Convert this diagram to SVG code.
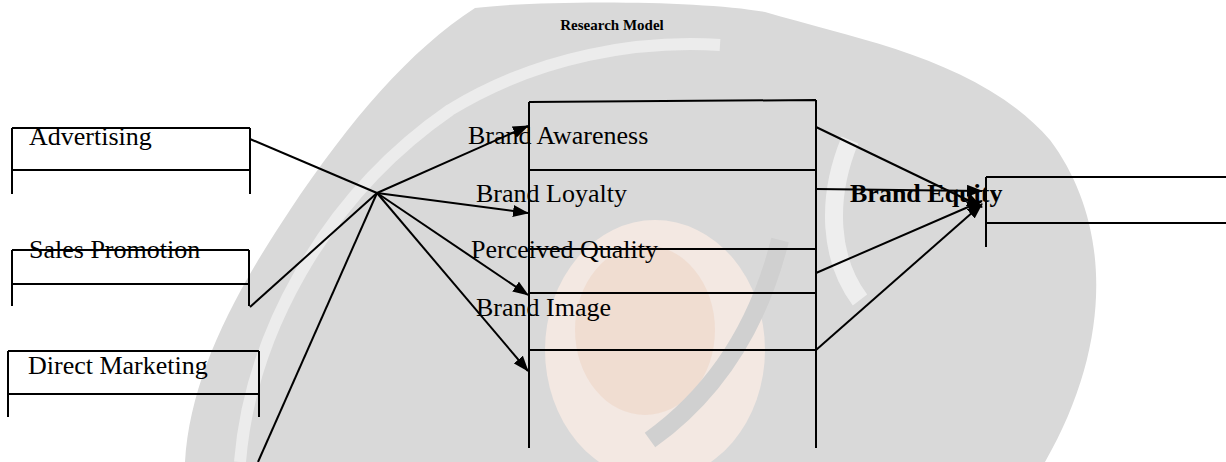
<svg xmlns="http://www.w3.org/2000/svg" width="1226" height="462" viewBox="0 0 1226 462">
<style>
.ln{stroke:#000;stroke-width:2;fill:none}
.tx{font-family:"Liberation Serif","Times New Roman",serif;font-size:26px;fill:#000}
.b{font-weight:bold}
</style>
<defs>
<marker id="ah" viewBox="0 0 16 12" refX="15" refY="6" markerWidth="16" markerHeight="12" orient="auto" markerUnits="userSpaceOnUse">
<path d="M0,0 L16,6 L0,12 Z" fill="#000"/>
</marker>
</defs>
<rect width="1226" height="462" fill="#fff"/>
<g id="watermark">
<path d="M475,8 C540,0 700,0 765,12 C860,40 980,60 1050,140 C1110,220 1115,340 1045,462 L185,462 C190,380 230,300 290,210 C350,120 410,50 475,8 Z" fill="#d9d9d9"/>
<path d="M240,462 C250,340 320,200 450,110 C540,55 640,40 720,45" stroke="#ececec" stroke-width="12" fill="none"/>
<path d="M850,140 C825,200 830,260 860,300" stroke="#eeeeee" stroke-width="18" fill="none"/>
<ellipse cx="655" cy="350" rx="110" ry="130" fill="#f3e8e2"/>
<ellipse cx="645" cy="330" rx="70" ry="85" fill="#efd6c6" opacity="0.6"/>
<path d="M780,240 C760,320 720,390 650,440" stroke="#d0d0d0" stroke-width="18" fill="none"/>
</g>
<text class="tx b" x="612" y="30" text-anchor="middle" style="font-size:15px">Research Model</text>
<g id="advertising">
<path class="ln" d="M12,128 H250 M12,170 H250 M12,128 V194 M250,128 V194"/>
<text class="tx" x="29" y="145">Advertising</text>
</g>
<g id="sales-promotion">
<path class="ln" d="M12,250 H249 M12,284 H249 M12,250 V306 M249,250 V306"/>
<text class="tx" x="29" y="258">Sales Promotion</text>
</g>
<g id="direct-marketing">
<path class="ln" d="M8,351 H259 M8,394 H259 M8,351 V417 M259,351 V417"/>
<text class="tx" x="28" y="374">Direct Marketing</text>
</g>
<g id="brand-dimensions">
<path class="ln" d="M529,102 L816,100 M529,170 H816 M529,249 H816 M529,293 H816 M529,350 H816 M529,102 V448 M816,100 V448"/>
<text class="tx" x="468" y="144">Brand Awareness</text>
<text class="tx" x="476" y="202">Brand Loyalty</text>
<text class="tx" x="471" y="258">Perceived Quality</text>
<text class="tx" x="476" y="316">Brand Image</text>
</g>
<g id="brand-equity">
<path class="ln" d="M986,177 H1226 M986,223 H1226 M986,177 V247"/>
<text class="tx b" x="850" y="202">Brand Equity</text>
</g>
<g id="connectors">
<path class="ln" d="M250,139 L377,193"/>
<path class="ln" d="M250,307 L377,193"/>
<path class="ln" d="M377,193 L258,462"/>
<path class="ln" d="M377,193 L528,126" marker-end="url(#ah)"/>
<path class="ln" d="M377,193 L528,213" marker-end="url(#ah)"/>
<path class="ln" d="M377,193 L528,295" marker-end="url(#ah)"/>
<path class="ln" d="M377,193 L528,371" marker-end="url(#ah)"/>
<path class="ln" d="M816,127 L982,207" marker-end="url(#ah)"/>
<path class="ln" d="M816,189 L982,191" marker-end="url(#ah)"/>
<path class="ln" d="M816,273 L982,201" marker-end="url(#ah)"/>
<path class="ln" d="M816,350 L982,204" marker-end="url(#ah)"/>
</g>
</svg>
